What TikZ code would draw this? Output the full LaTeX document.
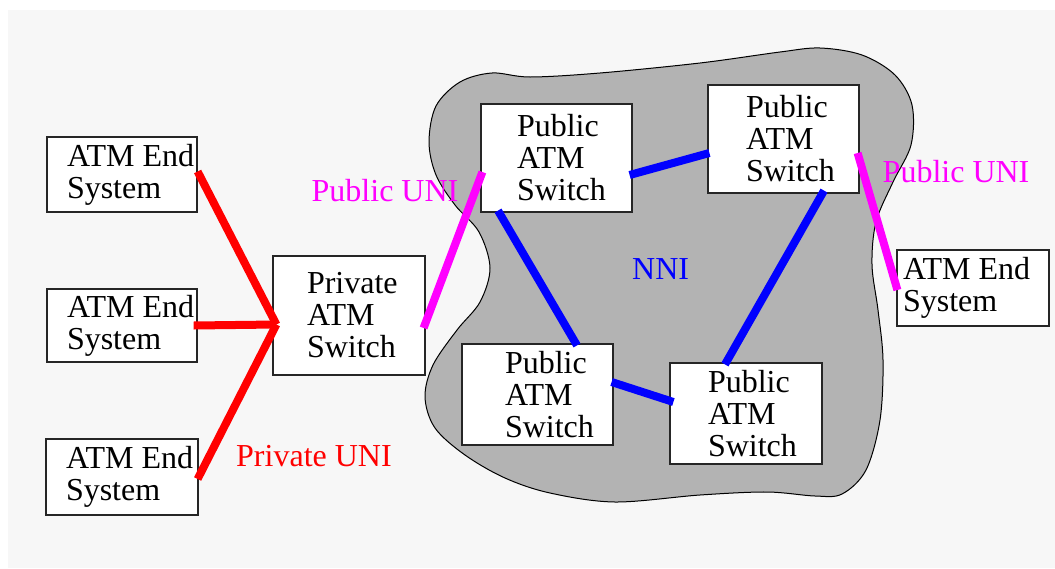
\documentclass[tikz,border=0pt]{standalone}
\usepackage{fontspec}
\setmainfont{Liberation Serif}
\usetikzlibrary{calc}
\definecolor{pagebg}{HTML}{F7F7F7}
\definecolor{cloudgray}{HTML}{B3B3B3}
\definecolor{unipink}{RGB}{255,0,255}
\definecolor{privred}{RGB}{255,0,0}
\definecolor{nniblue}{RGB}{0,0,255}
% left-aligned lines with a fixed left indent, set in a box of given width
\newcommand\boxtext[3]{\parbox{#1}{\raggedright\leftskip=#2\relax #3}}
\begin{document}
\begin{tikzpicture}[x=1pt,y=-1pt,
  box/.style={draw=black!85, line width=1.2pt, fill=white, rectangle,
    inner sep=0pt, font=\fontsize{32}{32}\selectfont},
  privlink/.style={draw=privred, line width=8pt},
  publink/.style={draw=unipink, line width=8pt},
  nnilink/.style={draw=nniblue, line width=8pt},
  lbl/.style={anchor=base west, inner sep=0pt, font=\fontsize{32}{32}\selectfont}
]
\useasboundingbox (0,0) rectangle (1055,568);
\fill[white] (0,0) rectangle (1055,568);
\fill[pagebg] (8,10) rectangle (1055,568);

% public network cloud
\draw[fill=cloudgray, line width=1pt] plot[smooth cycle, tension=0.55] coordinates {
  (460,82) (492,73) (530,77) (600,73) (700,63) (780,52) (820,48)
  (862,55) (895,75) (912,105) (911,145) (893,182) (876,222)
  (872,265) (878,310) (883,360) (880,420) (866,470)
  (842,494) (815,496) (767,492) (700,495) (615,502) (550,493)
  (505,478) (465,455) (435,428) (425,397) (433,365) (457,330)
  (480,302) (490,268) (479,232) (455,205) (436,175) (429,142)
  (436,106)};

% end systems
\node[box, minimum height=75pt] (es1) at (122,174.5) {\boxtext{150pt}{20pt}{ATM End\\System}};
\node[box, minimum height=73pt] (es2) at (122,325.5) {\boxtext{150pt}{20pt}{ATM End\\System}};
\node[box, minimum height=76pt] (es3) at (122,477) {\boxtext{152pt}{20pt}{ATM End\\System}};
\node[box, minimum height=76pt] (es4) at (973,288) {\boxtext{152pt}{6pt}{ATM End\\System}};

% switches
\node[box, minimum height=119pt] (priv) at (349,315.5) {\boxtext{152pt}{34pt}{Private\\ATM\\Switch}};
\node[box, minimum height=108pt] (p1) at (556.5,158) {\boxtext{151pt}{36pt}{Public\\ATM\\Switch}};
\node[box, minimum height=108pt] (p2) at (783.5,139) {\boxtext{151pt}{38pt}{Public\\ATM\\Switch}};
\node[box, minimum height=101pt] (p3) at (537.5,394.5) {\boxtext{151pt}{43pt}{Public\\ATM\\Switch}};
\node[box, minimum height=101pt] (p4) at (746,413.5) {\boxtext{152pt}{38pt}{Public\\ATM\\Switch}};

% private UNI links
\coordinate (hub) at ($(priv.west)+(4,9)$);
\draw[privlink] ($(es1.east)+(0,-3)$) -- (hub);
\draw[privlink] ($(es2.east)+(-4,0)$) -- (hub);
\draw[privlink] ($(es3.east)+(-1,2)$) -- (hub);

% public UNI links
\draw[publink] ($(priv.east)+(-2,12.5)$) -- ($(p1.west)+(2,14)$);
\draw[publink] ($(p2.east)+(-2,14)$) -- ($(es4.west)+(1,2)$);

% NNI links
\draw[nnilink] ($(p1.east)+(-3,17)$) -- ($(p2.west)+(2,14)$);
\draw[nnilink] ($(p1.south)+(-58.5,-2)$) -- ($(p3.north)+(39.5,2)$);
\draw[nnilink] ($(p3.east)+(-2,-12.5)$) -- ($(p4.west)+(4,-11.5)$);
\draw[nnilink] ($(p2.south)+(40.5,-3)$) -- ($(p4.north)+(-21,2)$);

% interface labels
\node[lbl, text=unipink] (lpubl) at (311.5,201.5) {Public UNI};
\node[lbl, text=unipink] (lpubr) at (882.5,182.7) {Public UNI};
\node[lbl, text=nniblue] (lnni) at (632,279) {NNI};
\node[lbl, text=privred] (lpriv) at (236,466.7) {Private UNI};
\end{tikzpicture}
\end{document}
